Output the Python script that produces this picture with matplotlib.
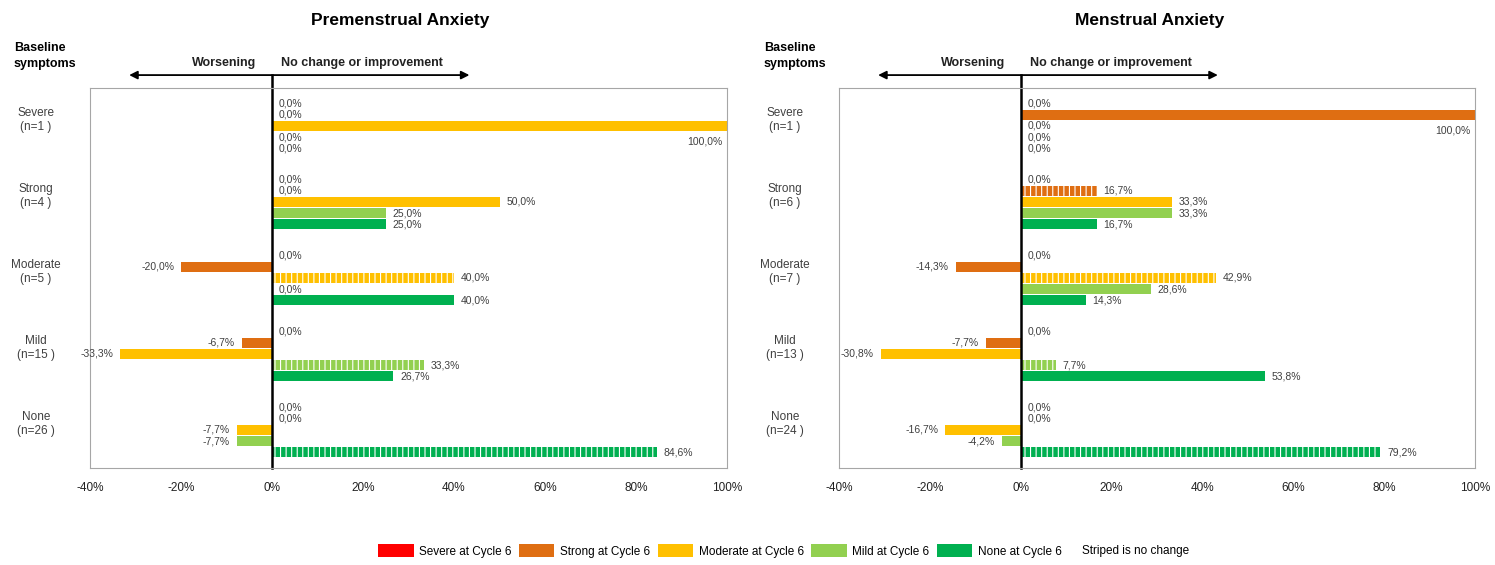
import matplotlib
matplotlib.use('Agg')
import matplotlib.pyplot as plt
from matplotlib.patches import Patch

plt.rcParams['font.family'] = ['Liberation Sans Narrow', 'Liberation Sans', 'DejaVu Sans']
plt.rcParams['hatch.linewidth'] = 0.8

# Categories at cycle 6 (one bar per category inside each baseline group)
cycle6_names = ['Severe at Cycle 6', 'Strong at Cycle 6', 'Moderate at Cycle 6',
                'Mild at Cycle 6', 'None at Cycle 6']
cycle6_colors = ['#FF0000', '#DF6E12', '#FFC000', '#92D050', '#00B050']

# Premenstrual anxiety
pre_cats = ['Severe\n(n=1 )', 'Strong\n(n=4 )', 'Moderate\n(n=5 )', 'Mild\n(n=15 )', 'None\n(n=26 )']
pre_vals = [
    [0, 0, 100, 0, 0],
    [0, 0, 50, 25, 25],
    [0, -20, 40, 0, 40],
    [0, -6.7, -33.3, 33.3, 26.7],
    [0, 0, -7.7, -7.7, 84.6],
]

# Menstrual anxiety
men_cats = ['Severe\n(n=1 )', 'Strong\n(n=6 )', 'Moderate\n(n=7 )', 'Mild\n(n=13 )', 'None\n(n=24 )']
men_vals = [
    [0, 100, 0, 0, 0],
    [0, 16.7, 33.3, 33.3, 16.7],
    [0, -14.3, 42.9, 28.6, 14.3],
    [0, -7.7, -30.8, 7.7, 53.8],
    [0, 0, -16.7, -4.2, 79.2],
]

xticks = [-40, -20, 0, 20, 40, 60, 80, 100]

bar_h = 0.135
step = 0.145
txt_col = '#404040'


def fmt(v):
    return f'{v:.1f}%'.replace('.', ',')


def draw_panel(ax, cats, vals):
    for i, (cat, row) in enumerate(zip(cats, vals)):
        for k, v in enumerate(row):
            y = i + 0.5 + (k - 2) * step
            striped = (i == k)
            ax.barh(y, v, height=bar_h, color=cycle6_colors[k],
                    edgecolor='white' if striped else cycle6_colors[k],
                    hatch='|||' if striped else None, linewidth=0)
            # value labels
            if v >= 99:
                ax.text(v - 1, y + 0.2, fmt(v), ha='right', va='center', fontsize=7.5, color=txt_col)
            elif v > 0:
                ax.text(v + 1.5, y, fmt(v), ha='left', va='center', fontsize=7.5, color=txt_col)
            elif v < 0:
                ax.text(v - 1.5, y, fmt(v), ha='right', va='center', fontsize=7.5, color=txt_col)
            else:
                ax.text(1.5, y, fmt(v), ha='left', va='center', fontsize=7.5, color=txt_col)
        ax.text(-0.085, i + 0.42, cat, transform=ax.get_yaxis_transform(),
                ha='center', va='center', fontsize=8.5, color=txt_col, multialignment='center')

    ax.set_xlim(-40, 100)
    ax.set_ylim(5, 0)
    ax.set_xticks(xticks)
    ax.set_xticklabels([f'{t}%' for t in xticks], fontsize=8.5, color='#222222')
    ax.set_yticks([])
    ax.tick_params(axis='x', length=0, pad=10)
    for s in ax.spines.values():
        s.set_color('#A6A6A6')
        s.set_linewidth(0.8)

    # zero line going up to the arrow
    ax.axvline(0, ymin=0, ymax=1.034, color='black', lw=1.8, clip_on=False)
    tr = ax.get_xaxis_transform()
    ax.annotate('', xy=(-32, 1.034), xytext=(44, 1.034), xycoords=tr, textcoords=tr,
                arrowprops=dict(arrowstyle='<|-|>', color='black', lw=1.3,
                                mutation_scale=12), annotation_clip=False)
    ax.text(-3.5, 1.066, 'Worsening', transform=tr, ha='right', va='center',
            fontsize=9, fontweight='bold', color='#222222')
    ax.text(2, 1.066, 'No change or improvement', transform=tr, ha='left', va='center',
            fontsize=9, fontweight='bold', color='#222222')


fig = plt.figure(figsize=(14.95, 5.65), dpi=100)
ax1 = fig.add_axes([90 / 1495, 1 - 468 / 565, 637 / 1495, 380 / 565])
ax2 = fig.add_axes([839 / 1495, 1 - 468 / 565, 636 / 1495, 380 / 565])

draw_panel(ax1, pre_cats, pre_vals)
draw_panel(ax2, men_cats, men_vals)

fig.text(400 / 1495, 1 - 20 / 565, 'Premenstrual Anxiety', ha='center', va='center',
         fontsize=12.5, fontweight='bold')
fig.text(1150 / 1495, 1 - 20 / 565, 'Menstrual Anxiety', ha='center', va='center',
         fontsize=12.5, fontweight='bold')
for xp in (14, 764):
    fig.text(xp / 1495, 1 - 56 / 565, 'Baseline\nsymptoms', ha='left', va='center',
             fontsize=9, fontweight='bold', linespacing=1.4)

handles = [Patch(facecolor=c, edgecolor='none') for c in cycle6_colors]
fig.legend(handles, cycle6_names, loc='center', bbox_to_anchor=(720 / 1495, 14 / 565),
           ncol=5, frameon=False, fontsize=8.5, handlelength=3, handleheight=1.2,
           handletextpad=0.5, columnspacing=0.6)
fig.text(1082 / 1495, 14 / 565, 'Striped is no change', ha='left', va='center', fontsize=8.5)

fig.savefig('out.png', dpi=100)
